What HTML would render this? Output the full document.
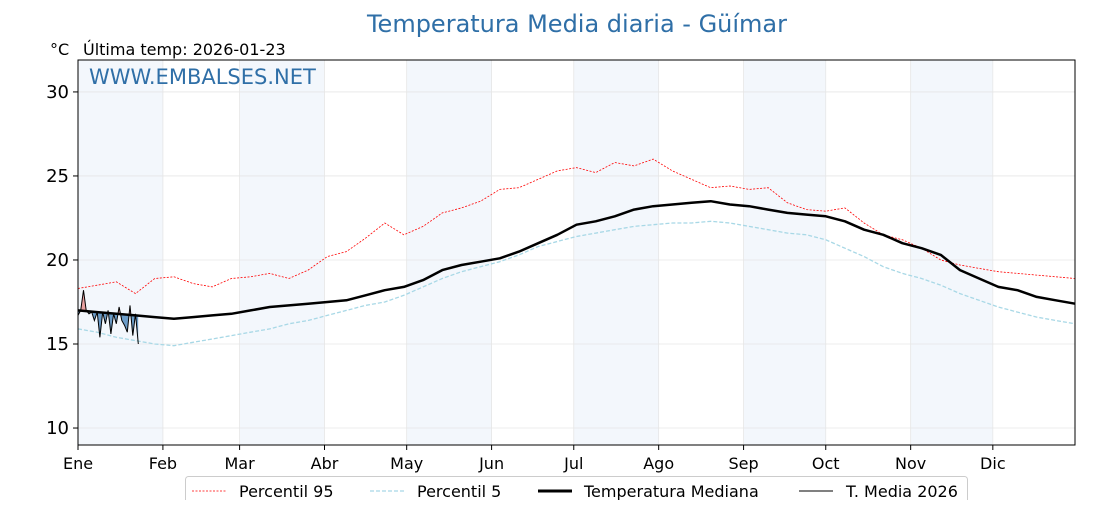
<!DOCTYPE html>
<html><head><meta charset="utf-8"><style>
body{margin:0;background:#fff;font-family:"Liberation Sans","DejaVu Sans",sans-serif}
svg text{font-family:"DejaVu Sans","Liberation Sans",sans-serif}
</style></head><body>
<svg id="chart" width="1120" height="500" xmlns="http://www.w3.org/2000/svg">
<text x="577" y="32" text-anchor="middle" font-size="24" fill="#2f6fa7">Temperatura Media diaria - Güímar</text>
<text x="50" y="55" font-size="16" fill="#000">°C</text>
<text x="83" y="55" font-size="16" fill="#000">Última temp: 2026-01-23</text>
<g id="bands"></g><g id="grid"></g><g id="series"></g>
<rect x="78" y="60" width="997" height="385" fill="none" stroke="#000" stroke-width="1"/>
<text x="89" y="84" font-size="21" fill="#2f6fa7">WWW.EMBALSES.NET</text>
<g id="axes"></g>
<g>
<rect x="185.5" y="476.5" width="782" height="30" rx="3" fill="#fff" stroke="#ccc"/>
<line x1="192" y1="491" x2="226" y2="491" stroke="red" stroke-width="0.8" stroke-dasharray="2,1.5"/>
<text x="239" y="497" font-size="16">Percentil 95</text>
<line x1="370" y1="491" x2="404" y2="491" stroke="#a8d8e6" stroke-width="1.3" stroke-dasharray="4,2"/>
<text x="417" y="497" font-size="16">Percentil 5</text>
<line x1="538" y1="491" x2="572" y2="491" stroke="#000" stroke-width="3"/>
<text x="584" y="497" font-size="16">Temperatura Mediana</text>
<line x1="799" y1="491" x2="833" y2="491" stroke="#000" stroke-width="1"/>
<text x="846" y="497" font-size="16">T. Media 2026</text>
</g>
</svg>
<script>
const monthLabels=["Ene","Feb","Mar","Abr","May","Jun","Jul","Ago","Sep","Oct","Nov","Dic"];
const monthStarts=[0,31,59,90,120,151,181,212,243,273,304,334];
const yTicks=[10,15,20,25,30];
const weekDays=[0,7,14,21,28,35,42,49,56,63,70,77,84,91,98,105,112,119,126,133,140,147,154,161,168,175,182,189,196,203,210,217,224,231,238,245,252,259,266,273,280,287,294,301,308,315,322,329,336,343,350,357,364];
const median=[17.0,16.9,16.8,16.7,16.6,16.5,16.6,16.7,16.8,17.0,17.2,17.3,17.4,17.5,17.6,17.9,18.2,18.4,18.8,19.4,19.7,19.9,20.1,20.5,21.0,21.5,22.1,22.3,22.6,23.0,23.2,23.3,23.4,23.5,23.3,23.2,23.0,22.8,22.7,22.6,22.3,21.8,21.5,21.0,20.7,20.3,19.4,18.9,18.4,18.2,17.8,17.6,17.4];
const p95=[18.3,18.5,18.7,18.0,18.9,19.0,18.6,18.4,18.9,19.0,19.2,18.9,19.4,20.2,20.5,21.3,22.2,21.5,22.0,22.8,23.1,23.5,24.2,24.3,24.8,25.3,25.5,25.2,25.8,25.6,26.0,25.3,24.8,24.3,24.4,24.2,24.3,23.4,23.0,22.9,23.1,22.2,21.5,21.2,20.7,20.0,19.7,19.5,19.3,19.2,19.1,19.0,18.9];
const p5=[15.9,15.7,15.4,15.2,15.0,14.9,15.1,15.3,15.5,15.7,15.9,16.2,16.4,16.7,17.0,17.3,17.5,17.9,18.4,18.9,19.3,19.6,19.9,20.3,20.8,21.1,21.4,21.6,21.8,22.0,22.1,22.2,22.2,22.3,22.2,22.0,21.8,21.6,21.5,21.2,20.7,20.2,19.6,19.2,18.9,18.5,18.0,17.6,17.2,16.9,16.6,16.4,16.2];
const days2026=[0,1,2,3,4,5,6,7,8,9,10,11,12,13,14,15,16,17,18,19,20,21,22];
const temp2026=[16.7,17.0,18.2,17.0,16.8,16.9,16.4,16.9,15.4,16.9,16.2,17.0,15.6,16.8,16.2,17.2,16.4,16.1,15.7,17.3,15.5,16.8,15.0];
const NS="http://www.w3.org/2000/svg";
const X0=78,X1=1075,Y0=445,Y1=60,DMAX=364,TMIN=8.99,TMAX=31.9;
const xs=d=>X0+(X1-X0)*d/DMAX, ys=t=>Y0-(Y0-Y1)*(t-TMIN)/(TMAX-TMIN);
function mk(tag,attrs,parent){const e=document.createElementNS(NS,tag);for(const k in attrs)e.setAttribute(k,attrs[k]);document.getElementById(parent).appendChild(e);return e;}
function interp(d){for(let i=0;i<weekDays.length-1;i++){if(d<=weekDays[i+1]){const f=(d-weekDays[i])/(weekDays[i+1]-weekDays[i]);return median[i]+f*(median[i+1]-median[i]);}}return median[median.length-1];}
for(let i=0;i<12;i+=2){const e=mk('rect',{x:xs(monthStarts[i]),y:Y1,width:xs(monthStarts[i+1])-xs(monthStarts[i]),height:Y0-Y1,fill:'#f3f7fc'},'bands');

}
yTicks.forEach(t=>{const l=mk('line',{x1:X0,x2:X1,y1:ys(t),y2:ys(t),stroke:'#e6e6e6','stroke-width':0.8},'grid');


mk('line',{x1:X0-5,x2:X0,y1:ys(t),y2:ys(t),stroke:'#000'},'axes');
const tx=mk('text',{x:X0-9,y:ys(t)+6,'text-anchor':'end','font-size':18},'axes');tx.textContent=t;

});
monthStarts.forEach((d,i)=>{const l=mk('line',{x1:xs(d),x2:xs(d),y1:Y1,y2:Y0,stroke:'#e6e6e6','stroke-width':0.8},'grid');


mk('line',{x1:xs(d),x2:xs(d),y1:Y0,y2:Y0+5,stroke:'#000'},'axes');
const tx=mk('text',{x:xs(d),y:Y0+24,'text-anchor':'middle','font-size':16},'axes');tx.textContent=monthLabels[i];

});
const pts=(dd,vv)=>dd.map((d,i)=>xs(d).toFixed(1)+','+ys(vv[i]).toFixed(1)).join(' ');
const medAt=days2026.map(interp);
const poly=pts(days2026,temp2026)+' '+pts(days2026.slice().reverse(),medAt.slice().reverse());
const defs=mk('defs',{},'series');
const cpA=document.createElementNS(NS,'clipPath');cpA.setAttribute('id','above');defs.appendChild(cpA);
const cpB=document.createElementNS(NS,'clipPath');cpB.setAttribute('id','below');defs.appendChild(cpB);
const mp=pts(days2026,medAt);
const a=document.createElementNS(NS,'polygon');a.setAttribute('points',mp+' '+xs(22)+','+Y1+' '+xs(0)+','+Y1);cpA.appendChild(a);
const b=document.createElementNS(NS,'polygon');b.setAttribute('points',mp+' '+xs(22)+','+Y0+' '+xs(0)+','+Y0);cpB.appendChild(b);
const fa=mk('polygon',{points:poly,fill:'#e8a0a0','clip-path':'url(#above)'},'series');


const fb=mk('polygon',{points:poly,fill:'#6b9cc8','clip-path':'url(#below)'},'series');


const l95=mk('polyline',{points:pts(weekDays,p95),fill:'none',stroke:'red','stroke-width':0.8,'stroke-dasharray':'2,1.5'},'series');


const l5=mk('polyline',{points:pts(weekDays,p5),fill:'none',stroke:'#a8d8e6','stroke-width':1.3,'stroke-dasharray':'4,2'},'series');


const lm=mk('polyline',{points:pts(weekDays,median),fill:'none',stroke:'#000','stroke-width':2.5,'stroke-linejoin':'round'},'series');


const l26=mk('polyline',{points:pts(days2026,temp2026),fill:'none',stroke:'#000','stroke-width':1},'series');


</script>
</body></html>
